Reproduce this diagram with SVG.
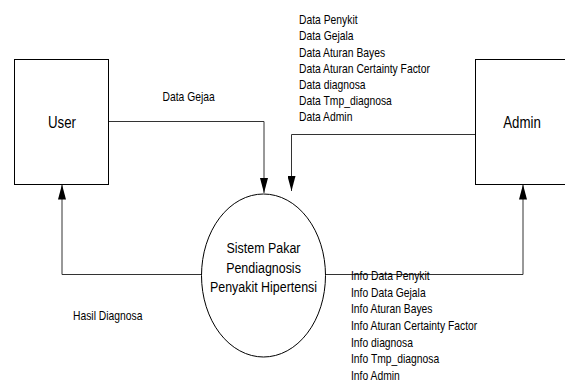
<svg xmlns="http://www.w3.org/2000/svg" width="565" height="381" viewBox="0 0 565 381">
<style>
.box{fill:#fff;stroke:#000;stroke-width:1}
.flow{fill:none;stroke:#333;stroke-width:1}
.lbl{font-family:"Liberation Sans",Arial,sans-serif;font-size:12.6px;fill:#000}
.name{font-family:"Liberation Sans",Arial,sans-serif;font-size:16.2px;fill:#000;text-anchor:middle}
.proc{font-family:"Liberation Sans",Arial,sans-serif;font-size:15.2px;fill:#000;text-anchor:middle}
</style>
<defs>
<marker id="ah" markerUnits="userSpaceOnUse" markerWidth="15" markerHeight="8" refX="15" refY="4" orient="auto">
<path d="M0,0 L15,4 L0,8 z" fill="#000"/>
</marker>
</defs>
<rect width="565" height="381" fill="#fff"/>
<g id="connectors">
<polyline class="flow" points="108.5,121.5 264,121.5 264,193" marker-end="url(#ah)"/>
<polyline class="flow" points="475.5,134.5 291.5,134.5 291.5,191" marker-end="url(#ah)"/>
<polyline class="flow" points="201.5,274.5 62,274.5 62,184.5" marker-end="url(#ah)"/>
<polyline class="flow" points="325,274.5 523,274.5 523,184.5" marker-end="url(#ah)"/>
</g>
<g id="user">
<rect class="box" x="14.5" y="59.5" width="94" height="125"/>
<g transform="translate(62 0) scale(0.82 1)"><text class="name" x="0" y="128">User</text></g>
</g>
<g id="admin">
<rect class="box" x="475.5" y="59.5" width="100" height="125"/>
<g transform="translate(522 0) scale(0.82 1)"><text class="name" x="0" y="128">Admin</text></g>
</g>
<g id="sistem">
<ellipse class="box" cx="263.5" cy="275.5" rx="62" ry="81.5"/>
<g transform="translate(263.5 0) scale(0.82 1)">
<text class="proc" x="0" y="253">Sistem Pakar</text>
<text class="proc" x="0" y="273">Pendiagnosis</text>
<text class="proc" x="0" y="292.5">Penyakit Hipertensi</text>
</g>
</g>
<g id="labels">
<g transform="translate(162.5 0) scale(0.82 1)"><text class="lbl" x="0" y="101.5">Data Gejaa</text></g>
<g transform="translate(73 0) scale(0.82 1)"><text class="lbl" x="0" y="320.5">Hasil Diagnosa</text></g>
<g transform="translate(299 0) scale(0.82 1)">
<text class="lbl" x="0" y="24.3">Data Penykit</text>
<text class="lbl" x="0" y="40.5">Data Gejala</text>
<text class="lbl" x="0" y="56.7">Data Aturan Bayes</text>
<text class="lbl" x="0" y="72.9">Data Aturan Certainty Factor</text>
<text class="lbl" x="0" y="89.1">Data diagnosa</text>
<text class="lbl" x="0" y="105.3">Data Tmp_diagnosa</text>
<text class="lbl" x="0" y="121.5">Data Admin</text>
</g>
<g transform="translate(351 0) scale(0.82 1)">
<text class="lbl" x="0" y="280">Info Data Penykit</text>
<text class="lbl" x="0" y="296.7">Info Data Gejala</text>
<text class="lbl" x="0" y="313.4">Info Aturan Bayes</text>
<text class="lbl" x="0" y="330.1">Info Aturan Certainty Factor</text>
<text class="lbl" x="0" y="346.8">Info diagnosa</text>
<text class="lbl" x="0" y="363.5">Info Tmp_diagnosa</text>
<text class="lbl" x="0" y="380.2">Info Admin</text>
</g>
</g>
</svg>
